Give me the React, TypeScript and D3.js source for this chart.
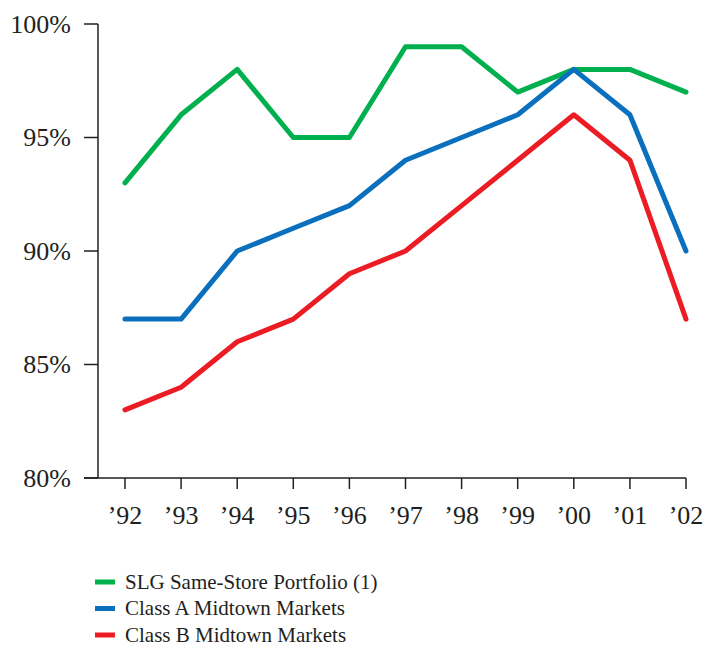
import React from "react";
import * as d3 from "d3";

const years = ["’92", "’93", "’94", "’95", "’96", "’97", "’98", "’99", "’00", "’01", "’02"];
const slgSameStore = [93, 96, 98, 95, 95, 99, 99, 97, 98, 98, 97];
const classA = [87, 87, 90, 91, 92, 94, 95, 96, 98, 96, 90];
const classB = [83, 84, 86, 87, 89, 90, 92, 94, 96, 94, 87];
const yTicks = [80, 85, 90, 95, 100];
const seriesNames = ["SLG Same-Store Portfolio (1)", "Class A Midtown Markets", "Class B Midtown Markets"];
const seriesColors = ["#00b04f", "#0a70bd", "#ec1c24"];

export default function App() {
  const W = 705, H = 646;
  const x = d3.scalePoint<string>().domain(years).range([125, 686]);
  const y = d3.scaleLinear().domain([80, 100]).range([478, 24]);
  const line = d3.line<number>().x((_, i) => x(years[i]) as number).y((d) => y(d));
  const series = [slgSameStore, classA, classB];
  const font = "'Liberation Serif', 'Times New Roman', serif";
  const axisColor = "#231f20";
  return (
    <svg width={W} height={H} style={{ position: "absolute", left: 0, top: 0, background: "#fff" }} fontFamily={font}>
      <line x1={98} x2={98} y1={y(100)} y2={y(80)} stroke={axisColor} strokeWidth={1.5} />
      {yTicks.map((t) => (
        <g key={t}>
          <line x1={84} x2={98} y1={y(t)} y2={y(t)} stroke={axisColor} strokeWidth={1.5} />
          <text x={71} y={y(t)} dy="0.33em" textAnchor="end" fontSize={26} fill={axisColor}>{t}%</text>
        </g>
      ))}
      <line x1={84} x2={686} y1={y(80)} y2={y(80)} stroke={axisColor} strokeWidth={1.5} />
      {years.map((yr) => (
        <g key={yr}>
          <line x1={x(yr)} x2={x(yr)} y1={y(80)} y2={y(80) + 11} stroke={axisColor} strokeWidth={1.5} />
          <text x={x(yr)} y={524} textAnchor="middle" fontSize={26} fill={axisColor}>{yr}</text>
        </g>
      ))}
      {series.map((s, i) => (
        <path key={i} d={line(s) || ""} fill="none" stroke={seriesColors[i]} strokeWidth={5} strokeLinejoin="round" strokeLinecap="round" />
      ))}
      {seriesNames.map((n, i) => (
        <g key={n} transform={`translate(0, ${582 + i * 26.5})`}>
          <rect x={95} y={-2.5} width={20} height={5} fill={seriesColors[i]} />
          <text x={125} y={0} dy="0.33em" fontSize={21} fill={axisColor}>{n}</text>
        </g>
      ))}
    </svg>
  );
}
